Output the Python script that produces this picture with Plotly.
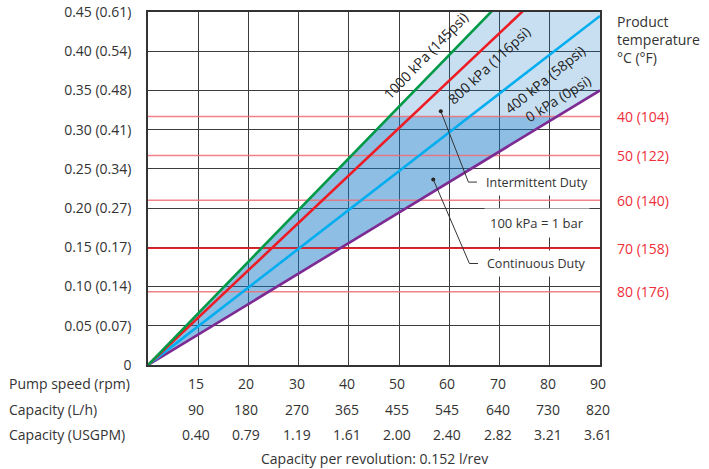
import plotly.graph_objects as go

# ---------------- data ----------------
pump_speed = ["15", "20", "30", "40", "50", "60", "70", "80", "90"]
capacity_lh = ["90", "180", "270", "365", "455", "545", "640", "730", "820"]
capacity_usgpm = ["0.40", "0.79", "1.19", "1.61", "2.00", "2.40", "2.82", "3.21", "3.61"]
x_positions = [1, 2, 3, 4, 5, 6, 7, 8, 9]
x_max = 9

y_tickvals = [0, 0.05, 0.10, 0.15, 0.20, 0.25, 0.30, 0.35, 0.40, 0.45]
y_ticktext = ["0", "0.05 (0.07)", "0.10 (0.14)", "0.15 (0.17)", "0.20 (0.27)",
              "0.25 (0.34)", "0.30 (0.41)", "0.35 (0.48)", "0.40 (0.54)", "0.45 (0.61)"]

pressure_names = ["0 kPa (0psi)", "400 kPa (58psi)", "800 kPa (116psi)", "1000 kPa (145psi)"]
pressure_end_values = [0.350, 0.445, 0.544, 0.593]   # value at x_max
pressure_colors = ["#7d2a92", "#00aeef", "#ed1c24", "#009a47"]

temp_c = [40, 50, 60, 70, 80]
temp_f = [104, 122, 140, 158, 176]
temp_levels = [0.3168, 0.267, 0.210, 0.149, 0.0933]

Y_TOP = 0.45
TEXT = "#333333"
FONT = "Open Sans"

fig = go.Figure()

# ---------------- shaded duty regions ----------------
slope_low = pressure_end_values[0] / x_max
slope_high = pressure_end_values[-1] / x_max
t40 = temp_levels[0]
x_high_top = Y_TOP / slope_high

# intermittent (above 40 degC line)
fig.add_trace(go.Scatter(
    x=[t40 / slope_high, x_high_top, x_max, x_max, t40 / slope_low, t40 / slope_high],
    y=[t40, Y_TOP, Y_TOP, pressure_end_values[0], t40, t40],
    fill="toself", mode="none", fillcolor="rgba(20,120,200,0.235)",
    hoverinfo="skip", showlegend=False))
# continuous (below 40 degC line)
fig.add_trace(go.Scatter(
    x=[0, t40 / slope_high, t40 / slope_low, 0],
    y=[0, t40, t40, 0],
    fill="toself", mode="none", fillcolor="rgba(20,120,200,0.48)",
    hoverinfo="skip", showlegend=False))

# ---------------- temperature lines ----------------
for c, lvl in zip(temp_c, temp_levels):
    dark = (c == 70)
    fig.add_trace(go.Scatter(
        x=[0, x_max], y=[lvl, lvl], mode="lines",
        line=dict(color="#e8202a" if dark else "rgba(236,110,116,0.85)",
                  width=1.8 if dark else 1.6),
        hoverinfo="skip", showlegend=False))

# ---------------- pressure lines ----------------
for name, end, col in zip(pressure_names, pressure_end_values, pressure_colors):
    fig.add_trace(go.Scatter(
        x=[0, x_max], y=[0, end], mode="lines", name=name,
        line=dict(color=col, width=2.6), showlegend=False))

annotations = []

# rotated pressure labels
label_spots = [(8.16, 0.340, -32), (7.90, 0.364, -39), (6.78, 0.382, -43), (5.53, 0.394, -46)]
for name, (lx, ly, ang) in zip(pressure_names, label_spots):
    annotations.append(dict(x=lx, y=ly, xref="x", yref="y", text=name, showarrow=False,
                            textangle=ang, font=dict(family=FONT, size=14, color="#222222")))

# y labels on right: temperatures
for c, f, lvl in zip(temp_c, temp_f, temp_levels):
    annotations.append(dict(x=1, y=lvl, xref="paper", yref="y", xanchor="left", yanchor="middle",
                            xshift=15, text=f"{c} ({f})", showarrow=False,
                            font=dict(family=FONT, size=14, color="#ee2e3b")))
annotations.append(dict(x=1, y=1, xref="paper", yref="paper", xanchor="left", yanchor="top",
                        xshift=15, yshift=2, align="left",
                        text="Product<br>temperature<br>°C (°F)", showarrow=False,
                        font=dict(family=FONT, size=14, color=TEXT)))

# bottom table
rows = [("Pump speed (rpm)", pump_speed, -18),
        ("Capacity (L/h)", capacity_lh, -44),
        ("Capacity (USGPM)", capacity_usgpm, -69)]
for label, vals, shift in rows:
    annotations.append(dict(x=0, y=0, xref="paper", yref="paper", xanchor="left", yanchor="middle",
                            xshift=-141, yshift=shift, text=label, showarrow=False,
                            font=dict(family=FONT, size=14, color=TEXT)))
    for xp, v in zip(x_positions, vals):
        annotations.append(dict(x=xp, y=0, xref="x", yref="paper", xanchor="center", yanchor="middle",
                                xshift=-2, yshift=shift, text=v, showarrow=False,
                                font=dict(family=FONT, size=14, color=TEXT)))
annotations.append(dict(x=x_max / 2, y=0, xref="x", yref="paper", xanchor="center", yanchor="middle",
                        yshift=-93, text="Capacity per revolution: 0.152 l/rev", showarrow=False,
                        font=dict(family=FONT, size=14, color=TEXT)))

# duty callouts
callouts = [("Intermittent Duty", (5.83, 0.3235), (6.38, 0.2332), 6.55),
            ("Continuous Duty", (5.68, 0.2366), (6.40, 0.1294), 6.57)]
shapes = []
for text, (dx, dy), (cx, cy), ex in callouts:
    shapes.append(dict(type="path", xref="x", yref="y",
                       path=f"M {dx},{dy} L {cx},{cy} L {ex},{cy}",
                       line=dict(color="#333333", width=1)))
    fig.add_trace(go.Scatter(x=[dx], y=[dy], mode="markers",
                             marker=dict(color="#222222", size=4), hoverinfo="skip", showlegend=False))
    annotations.append(dict(x=ex, y=cy, xref="x", yref="y", xanchor="left", yanchor="middle",
                            xshift=4, text=text, showarrow=False, bgcolor="white", borderpad=4,
                            font=dict(family=FONT, size=12.5, color=TEXT)))
annotations.append(dict(x=6.69, y=0.1807, xref="x", yref="y", xanchor="left", yanchor="middle",
                        text="100 kPa = 1 bar", showarrow=False, bgcolor="white", borderpad=5,
                        font=dict(family=FONT, size=13, color=TEXT)))

fig.update_layout(
    width=709, height=469,
    margin=dict(l=148, r=109, t=12, b=104, autoexpand=False),
    paper_bgcolor="white", plot_bgcolor="white",
    font=dict(family=FONT, size=14, color=TEXT),
    annotations=annotations, shapes=shapes,
    xaxis=dict(range=[0, x_max], dtick=1, tick0=0, showticklabels=False, ticks="",
               automargin=False,
               showgrid=True, gridcolor="#3c3c3c", gridwidth=1.2,
               showline=True, linecolor="#333333", linewidth=1.5, mirror=True, zeroline=False),
    yaxis=dict(range=[0, Y_TOP], tickvals=y_tickvals, ticktext=y_ticktext, ticks="",
               automargin=False, ticklabeloverflow="allow",
               ticklabelstandoff=12, tickfont=dict(family=FONT, size=14, color=TEXT),
               showgrid=True, gridcolor="#3c3c3c", gridwidth=1.2,
               showline=True, linecolor="#333333", linewidth=1.5, mirror=True, zeroline=False),
)

# remove the default 8px page margin so the 709x469 figure fills the window exactly
fig.write_html("out.html", config={"displayModeBar": False},
               post_script="document.body.style.margin='0px';")
